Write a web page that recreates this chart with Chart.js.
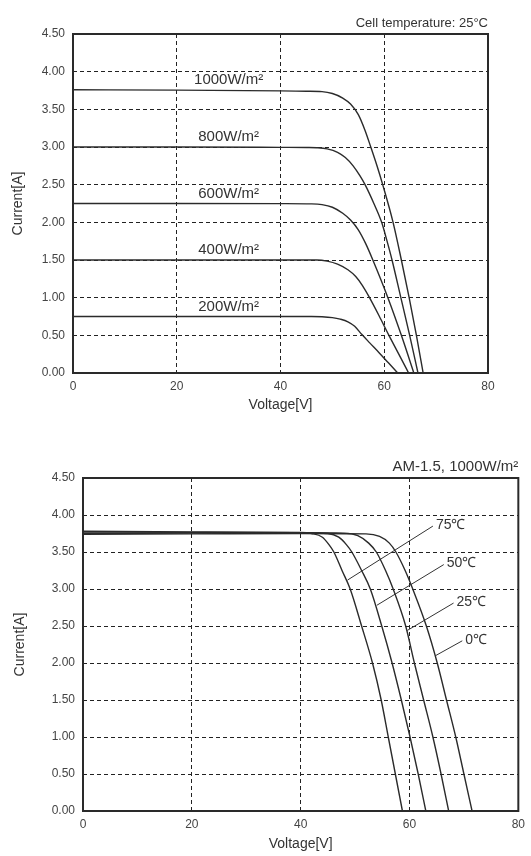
<!DOCTYPE html>
<html>
<head>
<meta charset="utf-8">
<script src="https://cdn.jsdelivr.net/npm/chart.js@4.4.1/dist/chart.umd.min.js"></script>
<style>
    body { margin: 0; background: #fff; }
    .box { position: absolute; left: 0; width: 531px; }
    #top-box { top: 0; height: 430px; }
    #bottom-box { top: 430px; height: 426px; }
</style>
</head>
<body>
<div class="box" id="top-box"><canvas id="irradiance-chart"></canvas></div>
<div class="box" id="bottom-box"><canvas id="temperature-chart"></canvas></div>
<script>
// I-V curves, [voltage, current]
var voltageTicks = [0, 20, 40, 60, 80]
var currentMax = 4.5
var currentStep = 0.5

var irradianceLabels = ['1000W/m²', '800W/m²', '600W/m²', '400W/m²', '200W/m²']
var curve1000 = [[0, 3.76], [20, 3.755], [40, 3.745], [45, 3.74], [48, 3.735], [50, 3.71], [52, 3.65], [53.5, 3.57], [55, 3.43], [56.3, 3.22], [57.4, 3.0], [58.6, 2.75], [59.7, 2.5], [61.7, 2.0], [63.3, 1.5], [64.8, 1.0], [66.2, 0.5], [67.5, 0]]
var curve800 = [[0, 3.0], [20, 3.0], [40, 2.995], [45, 2.993], [47, 2.99], [49, 2.975], [51, 2.93], [52.5, 2.86], [54, 2.75], [55.3, 2.62], [56.3, 2.5], [58, 2.25], [59.5, 2.0], [60.5, 1.76], [61.5, 1.5], [63.2, 1.0], [64.9, 0.5], [66.5, 0]]
var curve600 = [[0, 2.25], [20, 2.25], [40, 2.248], [46, 2.245], [48, 2.235], [50, 2.2], [52, 2.12], [53.5, 2.03], [55, 1.9], [56.4, 1.72], [57.8, 1.5], [60.7, 1.0], [63.3, 0.5], [65.7, 0]]
var curve400 = [[0, 1.5], [20, 1.5], [40, 1.5], [47, 1.5], [49, 1.485], [51, 1.445], [53, 1.37], [54.5, 1.28], [55.8, 1.16], [57.0, 1.02], [59.0, 0.76], [60.9, 0.5], [62.8, 0.25], [64.7, 0]]
var curve200 = [[0, 0.75], [20, 0.75], [40, 0.75], [46, 0.75], [48, 0.747], [50, 0.735], [51.5, 0.715], [53, 0.68], [54.3, 0.62], [55.7, 0.51], [57.2, 0.4], [59, 0.27], [60.8, 0.135], [62.6, 0]]
var irradianceLabelVoltage = 30

var temperatureLabels = ['75℃', '50℃', '25℃', '0℃']
var curveT75 = [[0, 3.78], [20, 3.77], [40, 3.765], [42, 3.75], [44, 3.7], [45.2, 3.6], [46.1, 3.5], [47.6, 3.25], [49.1, 3.0], [51.2, 2.5], [53.2, 2.0], [54.8, 1.5], [56.1, 1.0], [57.4, 0.5], [58.7, 0]]
var curveT50 = [[0, 3.77], [20, 3.765], [40, 3.76], [45, 3.75], [47, 3.7], [48.4, 3.6], [49.4, 3.5], [51.2, 3.25], [52.8, 3.0], [54.9, 2.5], [56.8, 2.0], [58.5, 1.5], [60.1, 1.0], [61.6, 0.5], [63.0, 0]]
var curveT25 = [[0, 3.75], [20, 3.755], [40, 3.76], [48, 3.755], [50.5, 3.72], [52.5, 3.62], [53.9, 3.5], [55.6, 3.25], [57.0, 3.0], [59.3, 2.5], [60.9, 2.0], [62.6, 1.5], [64.3, 1.0], [65.8, 0.5], [67.2, 0]]
var curveT0 = [[0, 3.74], [20, 3.745], [40, 3.75], [52, 3.745], [54.5, 3.71], [56.3, 3.62], [57.5, 3.5], [59.2, 3.25], [60.6, 3.0], [63.1, 2.5], [65.1, 2.0], [66.8, 1.5], [68.5, 1.0], [70.0, 0.5], [71.5, 0]]
// leader lines from each curve out to its label
var leaderT75 = [[48.6, 3.12], [64.3, 3.85]]
var leaderT50 = [[54.0, 2.78], [66.3, 3.33]]
var leaderT25 = [[59.6, 2.44], [68.1, 2.81]]
var leaderT0 = [[64.8, 2.1], [69.7, 2.30]]

var fontFamily = "'Liberation Sans', Arial, sans-serif"

function curveSet(points) {
    return {
        data: points.map(p => ({ x: p[0], y: p[1] })),
        borderColor: '#2b2b2b',
        borderWidth: 1.4,
        pointRadius: 0,
        fill: false,
        cubicInterpolationMode: 'monotone'
    }
}

function leaderSet(points) {
    return {
        data: points.map(p => ({ x: p[0], y: p[1] })),
        borderColor: '#333',
        borderWidth: 1,
        pointRadius: 0,
        fill: false,
        tension: 0
    }
}

// solid frame round the plot, the grid stays dashed
var framePlugin = {
    id: 'frame',
    afterDatasetsDraw(chart) {
        var a = chart.chartArea
        var ctx = chart.ctx
        ctx.save()
        ctx.strokeStyle = '#2a2a2a'
        ctx.lineWidth = 2
        ctx.strokeRect(a.left, a.top, a.right - a.left, a.bottom - a.top)
        ctx.restore()
    }
}

function cornerTitle(text, size) {
    return {
        id: 'cornerTitle',
        afterDraw(chart) {
            var a = chart.chartArea
            var ctx = chart.ctx
            ctx.save()
            ctx.font = size + 'px ' + fontFamily
            ctx.fillStyle = '#333'
            ctx.textAlign = 'right'
            ctx.textBaseline = 'alphabetic'
            ctx.fillText(text, a.right, a.top - 7)
            ctx.restore()
        }
    }
}

function scalesFor(yWidth, xHeight, yTitlePad, xTitlePad, xTickPad) {
    return {
        x: {
            type: 'linear',
            min: voltageTicks[0],
            max: voltageTicks[voltageTicks.length - 1],
            afterBuildTicks: s => { s.ticks = voltageTicks.map(v => ({ value: v })) },
            afterFit: s => { s.height = xHeight },
            grid: {
                color: '#222',
                lineWidth: 1,
                drawTicks: false
            },
            border: { display: false, dash: [4, 3] },
            ticks: {
                padding: xTickPad,
                color: '#444',
                font: { family: fontFamily, size: 12 }
            },
            title: {
                display: true,
                text: 'Voltage[V]',
                color: '#333',
                padding: { top: 0, bottom: xTitlePad },
                font: { family: fontFamily, size: 14 }
            }
        },
        y: {
            min: 0,
            max: currentMax,
            afterFit: s => { s.width = yWidth },
            grid: {
                color: '#222',
                lineWidth: 1,
                drawTicks: false
            },
            border: { display: false, dash: [4, 3] },
            ticks: {
                stepSize: currentStep,
                padding: 8,
                color: '#444',
                font: { family: fontFamily, size: 12 },
                callback: v => v.toFixed(2)
            },
            title: {
                display: true,
                text: 'Current[A]',
                color: '#333',
                padding: { top: yTitlePad, bottom: 0 },
                font: { family: fontFamily, size: 14 }
            }
        }
    }
}

var irradianceCurves = [curve1000, curve800, curve600, curve400, curve200]

var irradianceLabelPlugin = {
    id: 'irradianceLabels',
    afterDatasetsDraw(chart) {
        var ctx = chart.ctx
        var xs = chart.scales.x
        var ys = chart.scales.y
        ctx.save()
        ctx.font = '15px ' + fontFamily
        ctx.fillStyle = '#333'
        ctx.textAlign = 'center'
        ctx.textBaseline = 'middle'
        for (let i = 0; i < irradianceCurves.length; i++) {
            var px = xs.getPixelForValue(irradianceLabelVoltage)
            var py = ys.getPixelForValue(irradianceCurves[i][0][1]) - 10
            ctx.fillText(irradianceLabels[i], px, py)
        }
        ctx.restore()
    }
}

new Chart(document.getElementById('irradiance-chart').getContext('2d'), {
    type: 'line',
    data: {
        datasets: irradianceCurves.map(curveSet)
    },
    plugins: [framePlugin, irradianceLabelPlugin, cornerTitle('Cell temperature: 25°C', 13)],
    options: {
        responsive: true,
        maintainAspectRatio: false,
        animation: false,
        layout: { padding: { top: 34, right: 43, left: 0, bottom: 0 } },
        plugins: {
            legend: { display: false },
            tooltip: { enabled: false }
        },
        scales: scalesFor(73, 57, 10, 16, 6)
    }
});

var temperatureCurves = [curveT75, curveT50, curveT25, curveT0]
var leaders = [leaderT75, leaderT50, leaderT25, leaderT0]

var temperatureLabelPlugin = {
    id: 'temperatureLabels',
    afterDatasetsDraw(chart) {
        var ctx = chart.ctx
        var xs = chart.scales.x
        var ys = chart.scales.y
        ctx.save()
        ctx.font = '14px ' + fontFamily
        ctx.fillStyle = '#333'
        ctx.textAlign = 'left'
        ctx.textBaseline = 'middle'
        for (let i = 0; i < leaders.length; i++) {
            var end = leaders[i][1]
            ctx.fillText(temperatureLabels[i], xs.getPixelForValue(end[0]) + 3, ys.getPixelForValue(end[1]) - 1)
        }
        ctx.restore()
    }
}

new Chart(document.getElementById('temperature-chart').getContext('2d'), {
    type: 'line',
    data: {
        datasets: temperatureCurves.map(curveSet).concat(leaders.map(leaderSet))
    },
    plugins: [framePlugin, temperatureLabelPlugin, cornerTitle('AM-1.5, 1000W/m²', 15)],
    options: {
        responsive: true,
        maintainAspectRatio: false,
        animation: false,
        layout: { padding: { top: 48, right: 10, left: 0, bottom: 0 } },
        plugins: {
            legend: { display: false },
            tooltip: { enabled: false }
        },
        scales: scalesFor(83, 45, 12, 3, 6)
    }
});
</script>
</body>
</html>
